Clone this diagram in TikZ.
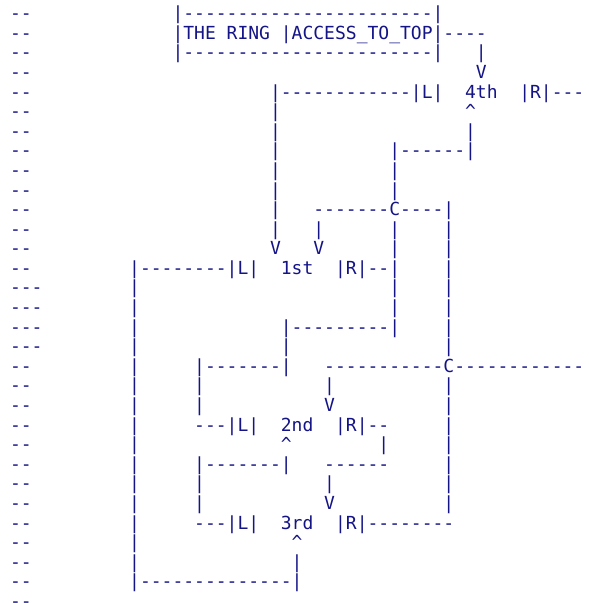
\documentclass[tikz,border=0pt]{standalone}
\usepackage{fontspec}
\setmonofont{DejaVu Sans Mono}
\definecolor{ink}{RGB}{20,20,135}
\tikzset{txt/.style={font=\ttfamily\fontsize{18}{18}\selectfont, text=ink, anchor=base west, inner sep=0pt, outer sep=0pt}}
\newcommand\seg[3]{\node[txt] (s#2x#1) at ({10+#1*10.836},{583.3-(#2-1)*19.59}) {#3};}
\newcommand\ca{\textasciicircum}
\begin{document}
\begin{tikzpicture}[x=1pt,y=1pt]
\useasboundingbox[fill=white] (0,0) rectangle (589,603);
% line 1-4
\seg{0}{1}{--}\seg{15}{1}{|-----------------------|}
\seg{0}{2}{--}\seg{15}{2}{|THE RING |ACCESS\_TO\_TOP|----}
\seg{0}{3}{--}\seg{15}{3}{|-----------------------|}\seg{43}{3}{|}
\seg{0}{4}{--}\seg{43}{4}{V}
% 4th
\seg{0}{5}{--}\seg{24}{5}{|------------|L|}\seg{42}{5}{4th}\seg{47}{5}{|R|---}
\seg{0}{6}{--}\seg{24}{6}{|}\seg{42}{6}{\ca}
\seg{0}{7}{--}\seg{24}{7}{|}\seg{42}{7}{|}
\seg{0}{8}{--}\seg{24}{8}{|}\seg{35}{8}{|------|}
\seg{0}{9}{--}\seg{24}{9}{|}\seg{35}{9}{|}
\seg{0}{10}{--}\seg{24}{10}{|}\seg{35}{10}{|}
\seg{0}{11}{--}\seg{24}{11}{|}\seg{28}{11}{-------C----|}
\seg{0}{12}{--}\seg{24}{12}{|}\seg{28}{12}{|}\seg{35}{12}{|}\seg{40}{12}{|}
\seg{0}{13}{--}\seg{24}{13}{V}\seg{28}{13}{V}\seg{35}{13}{|}\seg{40}{13}{|}
% 1st
\seg{0}{14}{--}\seg{11}{14}{|--------|L|}\seg{25}{14}{1st}\seg{30}{14}{|R|--|}\seg{40}{14}{|}
\seg{0}{15}{---}\seg{11}{15}{|}\seg{35}{15}{|}\seg{40}{15}{|}
\seg{0}{16}{---}\seg{11}{16}{|}\seg{35}{16}{|}\seg{40}{16}{|}
\seg{0}{17}{---}\seg{11}{17}{|}\seg{25}{17}{|---------|}\seg{40}{17}{|}
\seg{0}{18}{---}\seg{11}{18}{|}\seg{25}{18}{|}\seg{40}{18}{|}
\seg{0}{19}{--}\seg{11}{19}{|}\seg{17}{19}{|-------|}\seg{29}{19}{-----------C------------}
\seg{0}{20}{--}\seg{11}{20}{|}\seg{17}{20}{|}\seg{29}{20}{|}\seg{40}{20}{|}
\seg{0}{21}{--}\seg{11}{21}{|}\seg{17}{21}{|}\seg{29}{21}{V}\seg{40}{21}{|}
% 2nd
\seg{0}{22}{--}\seg{11}{22}{|}\seg{17}{22}{---|L|}\seg{25}{22}{2nd}\seg{30}{22}{|R|--}\seg{40}{22}{|}
\seg{0}{23}{--}\seg{11}{23}{|}\seg{25}{23}{\ca}\seg{34}{23}{|}\seg{40}{23}{|}
\seg{0}{24}{--}\seg{11}{24}{|}\seg{17}{24}{|-------|}\seg{29}{24}{------}\seg{40}{24}{|}
\seg{0}{25}{--}\seg{11}{25}{|}\seg{17}{25}{|}\seg{29}{25}{|}\seg{40}{25}{|}
\seg{0}{26}{--}\seg{11}{26}{|}\seg{17}{26}{|}\seg{29}{26}{V}\seg{40}{26}{|}
% 3rd
\seg{0}{27}{--}\seg{11}{27}{|}\seg{17}{27}{---|L|}\seg{25}{27}{3rd}\seg{30}{27}{|R|--------}
\seg{0}{28}{--}\seg{11}{28}{|}\seg{26}{28}{\ca}
\seg{0}{29}{--}\seg{11}{29}{|}\seg{26}{29}{|}
\seg{0}{30}{--}\seg{11}{30}{|--------------|}
\seg{0}{31}{--}
\end{tikzpicture}
\end{document}
